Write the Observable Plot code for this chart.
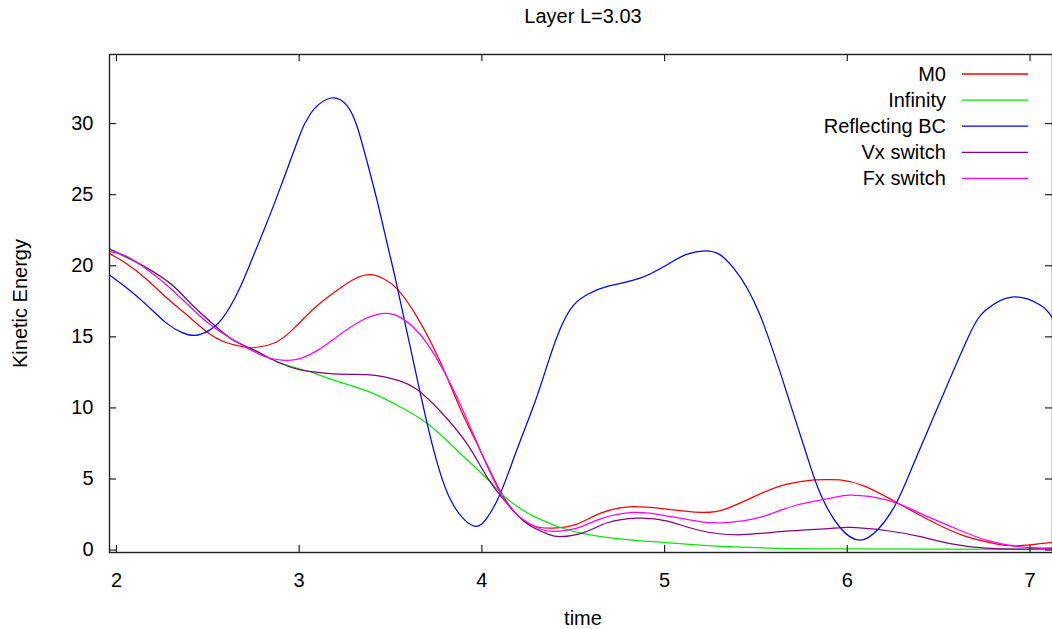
<!DOCTYPE html>
<html><head><meta charset="utf-8">
<script src="https://cdn.jsdelivr.net/npm/d3@7"></script>
<script src="https://cdn.jsdelivr.net/npm/@observablehq/plot@0.6"></script>
<style>body{margin:0;background:#fff;} #chart svg{display:block}</style>
</head><body><div id="chart"></div>
<script>
const title = "Layer L=3.03";
const xLabel = "time";
const yLabel = "Kinetic Energy";
const seriesNames = ["M0", "Infinity", "Reflecting BC", "Vx switch", "Fx switch"];
const seriesColors = ["#ff0000", "#00ee00", "#0000ff", "#880088", "#ff00ff"];
const xTicks = [2, 3, 4, 5, 6, 7];
const yTicks = [0, 5, 10, 15, 20, 25, 30];

// [time, kinetic energy]
const m0 = [[1.962,20.85],[2.05,20.2],[2.16,19.1],[2.27,17.8],[2.38,16.6],[2.49,15.4],[2.60,14.6],[2.71,14.26],[2.76,14.25],[2.87,14.6],[2.98,15.7],[3.09,17.1],[3.20,18.2],[3.30,19.05],[3.39,19.37],[3.46,19.1],[3.536,18.37],[3.645,16.4],[3.77,13.3],[3.88,10.0],[3.974,7.46],[4.10,4.17],[4.19,2.53],[4.28,1.71],[4.39,1.55],[4.52,1.83],[4.65,2.6],[4.82,3.05],[5.01,2.88],[5.20,2.65],[5.34,2.92],[5.52,3.94],[5.67,4.64],[5.82,4.93],[5.9,4.96],[5.96,4.93],[6.09,4.52],[6.27,3.35],[6.455,2.06],[6.64,1.0],[6.82,0.42],[6.93,0.3],[7.123,0.55]];
const infinity = [[1.962,21.15],[2.05,20.6],[2.16,19.9],[2.30,18.7],[2.41,17.3],[2.52,16.0],[2.63,14.85],[2.74,14.15],[2.83,13.55],[2.94,12.97],[3.07,12.5],[3.19,11.95],[3.37,11.2],[3.52,10.3],[3.70,8.93],[3.865,7.0],[4.03,5.0],[4.14,3.59],[4.28,2.41],[4.43,1.59],[4.57,1.13],[4.81,0.72],[5.01,0.53],[5.38,0.23],[5.91,0.08],[6.5,0.06],[7.123,0.05]];
const reflecting = [[1.962,19.35],[2.05,18.5],[2.16,17.3],[2.27,16.0],[2.36,15.3],[2.43,15.1],[2.50,15.4],[2.58,16.3],[2.67,18.3],[2.74,20.4],[2.81,22.6],[2.9,25.6],[3.007,29.3],[3.04,30.2],[3.08,31.0],[3.175,31.8],[3.26,31.3],[3.317,29.8],[3.37,27.4],[3.43,24.4],[3.49,21.1],[3.535,18.6],[3.655,11.5],[3.737,7.0],[3.83,3.5],[3.952,1.71],[4.03,2.3],[4.10,3.94],[4.19,7.0],[4.29,10.4],[4.36,13.1],[4.43,15.6],[4.5,17.2],[4.58,18.0],[4.7,18.6],[4.87,19.15],[5.03,20.2],[5.12,20.8],[5.22,21.05],[5.30,20.8],[5.38,19.8],[5.52,16.6],[5.69,10.2],[5.78,6.6],[5.853,3.94],[5.96,1.59],[6.07,0.70],[6.17,1.48],[6.27,3.35],[6.37,6.28],[6.51,10.5],[6.67,15.2],[6.76,16.9],[6.9,17.8],[7.06,17.2],[7.123,16.3]];
const vxSwitch = [[1.962,21.2],[2.05,20.65],[2.16,19.9],[2.30,18.7],[2.41,17.3],[2.52,16.0],[2.63,14.85],[2.74,14.15],[2.83,13.55],[2.906,13.1],[3.007,12.67],[3.19,12.4],[3.37,12.34],[3.46,12.2],[3.55,11.9],[3.645,11.3],[3.77,9.8],[3.92,7.45],[4.03,5.1],[4.14,3.24],[4.25,1.83],[4.36,1.13],[4.43,0.94],[4.56,1.24],[4.69,1.94],[4.85,2.25],[5.01,2.06],[5.20,1.36],[5.42,1.08],[5.65,1.31],[5.91,1.52],[6.02,1.59],[6.22,1.36],[6.40,0.94],[6.58,0.42],[6.76,0.14],[6.95,0.07],[7.123,0.14]];
const fxSwitch = [[1.962,21.0],[2.05,20.7],[2.16,19.8],[2.27,18.7],[2.38,17.4],[2.49,16.1],[2.60,15.1],[2.71,14.26],[2.815,13.6],[2.906,13.37],[3.0,13.45],[3.107,14.1],[3.19,14.85],[3.335,16.1],[3.463,16.65],[3.554,16.37],[3.66,15.2],[3.77,13.1],[3.88,10.3],[3.99,7.05],[4.10,4.05],[4.21,2.3],[4.32,1.48],[4.39,1.31],[4.52,1.55],[4.65,2.2],[4.83,2.65],[5.01,2.41],[5.20,1.99],[5.34,1.94],[5.52,2.3],[5.71,3.12],[5.91,3.66],[6.02,3.87],[6.22,3.52],[6.40,2.58],[6.58,1.59],[6.76,0.70],[6.95,0.23],[7.123,0.14]];

const seriesData = [m0, infinity, reflecting, vxSwitch, fxSwitch];
const rows = seriesData.flatMap((pts, i) => pts.map(([t, e]) => ({series: seriesNames[i], time: t, energy: e})));

const W = 1052, H = 629;
const mL = 109, mR = 0, mT = 54, mB = 77;
const fw = W - mL - mR, fh = H - mT - mB;
const tick = 7;

const svg = Plot.plot({
  width: W, height: H,
  marginLeft: mL, marginRight: mR, marginTop: mT, marginBottom: mB,
  style: {fontFamily: "'Liberation Sans', Arial, sans-serif", fontSize: "20px", background: "#fff", color: "#000"},
  x: {domain: [1.962, 7.123]},
  y: {domain: [-0.17, 34.86]},
  color: {domain: seriesNames, range: seriesColors},
  marks: [
    Plot.line(rows, {x: "time", y: "energy", z: "series", stroke: "series", strokeWidth: 1.25, curve: "natural", clip: true}),
    Plot.tickX(xTicks, {x: d => d, insetTop: fh - tick, stroke: "#222", strokeWidth: 1.2}),
    Plot.tickX(xTicks, {x: d => d, insetBottom: fh - tick, stroke: "#222", strokeWidth: 1.2}),
    Plot.tickY(yTicks, {y: d => d, insetRight: fw - tick, stroke: "#222", strokeWidth: 1.2}),
    Plot.tickY(yTicks, {y: d => d, insetLeft: fw - tick, stroke: "#222", strokeWidth: 1.2}),
    Plot.frame({stroke: "#222", strokeWidth: 1.4}),
    Plot.axisX(xTicks, {tickSize: 0, tickPadding: 20, tickFormat: d3.format("d"), label: null, fill: "#000"}),
    Plot.axisY(yTicks, {tickSize: 0, tickPadding: 16, tickFormat: d3.format("d"), label: null, fill: "#000"}),
    Plot.text([xLabel], {frameAnchor: "bottom", dx: 2, dy: 66, lineAnchor: "middle", fontSize: 20, fill: "#000"}),
    Plot.text([yLabel], {frameAnchor: "left", dx: -89, dy: 0, rotate: -90, textAnchor: "middle", lineAnchor: "middle", fontSize: 20, fill: "#000"}),
    Plot.text([title], {frameAnchor: "top", dx: 2, dy: -38, lineAnchor: "middle", fontSize: 20, fill: "#000"})
  ]
});

// legend (inside the plot, top right)
const g = d3.select(svg).append("g").attr("class", "legend");
seriesNames.forEach((name, i) => {
  const yy = 74 + i * 26.1;
  g.append("text").attr("x", 946).attr("y", yy).attr("text-anchor", "end")
    .attr("dominant-baseline", "central").attr("font-size", 20).attr("fill", "#000").text(name);
  g.append("line").attr("x1", 962).attr("x2", 1028).attr("y1", yy).attr("y2", yy)
    .attr("stroke", seriesColors[i]).attr("stroke-width", 1.3);
});

document.getElementById("chart").appendChild(svg);
</script>
</body></html>
